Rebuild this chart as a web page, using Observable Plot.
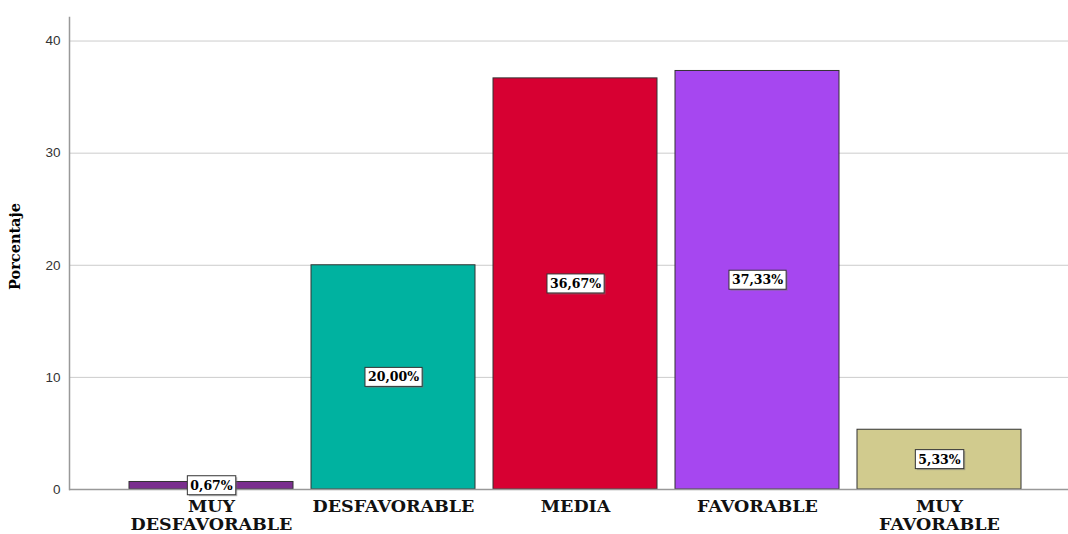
<!DOCTYPE html>
<html>
<head>
<meta charset="utf-8">
<script src="https://cdn.jsdelivr.net/npm/d3@7"></script>
<script src="https://cdn.jsdelivr.net/npm/@observablehq/plot@0.6"></script>
<style>
  html, body { margin: 0; padding: 0; background: #ffffff; }
  #chart svg { display: block; }
</style>
</head>
<body>
<div id="chart"></div>
<script>
const categories = ["MUY DESFAVORABLE", "DESFAVORABLE", "MEDIA", "FAVORABLE", "MUY FAVORABLE"];
const axisLabels = ["MUY\nDESFAVORABLE", "DESFAVORABLE", "MEDIA", "FAVORABLE", "MUY\nFAVORABLE"];
const values = [0.67, 20.00, 36.67, 37.33, 5.33];
const colors = ["#7a2f8e", "#00b2a0", "#d70032", "#a647f0", "#d1cb8e"];
const yTicks = [0, 10, 20, 30, 40];
const yTitle = "Porcentaje";

const data = categories.map((c, i) => ({cat: c, value: values[i], label: values[i].toFixed(2).replace(".", ",") + "%"}));

const serif = "DejaVu Serif, Liberation Serif, serif";

const chart = Plot.plot({
  width: 1068,
  height: 534,
  marginLeft: 69,
  marginRight: 0,
  marginTop: 17,
  marginBottom: 45,
  style: {background: "#ffffff"},
  x: {domain: categories, range: [119, 1030], paddingInner: 0.1, paddingOuter: 0.05},
  y: {domain: [0, 42.1]},
  color: {domain: categories, range: colors},
  marks: [
    Plot.ruleY(yTicks.filter(t => t > 0), {stroke: "#cccccc", strokeWidth: 1}),
    Plot.barY(data, {x: "cat", y: "value", fill: "cat", stroke: "#333333", strokeWidth: 1}),
    Plot.ruleY([0], {stroke: "#999999", strokeWidth: 1.5}),
    Plot.frame({anchor: "left", stroke: "#999999", strokeWidth: 1.5}),
    Plot.axisY({ticks: yTicks, tickSize: 0, tickPadding: 9, label: null, fontFamily: "Liberation Sans, Arial, sans-serif", fontSize: 13.5, fill: "#333333"}),
    Plot.text([yTitle], {frameAnchor: "left", textAnchor: "middle", rotate: -90, dx: -54, dy: -7, text: (d) => d, fontFamily: serif, fontWeight: "bold", fontSize: 14.5, fill: "#000000"}),
    Plot.axisX({tickSize: 0, tickPadding: 10, label: null, tickFormat: (d) => axisLabels[categories.indexOf(d)], fontFamily: serif, fontWeight: "bold", fontSize: 17.5, lineHeight: 1.03, fill: "#111111"}),
    Plot.text(data, {x: "cat", y: (d) => d.value / 2, text: "label", fontFamily: serif, fontWeight: "bold", fontSize: 12.5, fill: "#000000", className: "barlabel"})
  ]
});

document.getElementById("chart").appendChild(chart);

// White boxes behind the value labels, sized from the rendered text
const ns = "http://www.w3.org/2000/svg";
chart.querySelectorAll(".barlabel text").forEach((t) => {
  const b = t.getBBox();
  const padX = 3, padY = 2;
  const tr = t.getAttribute("transform") || "";
  const mk = (dx, dy, fill, stroke, op) => {
    const r = document.createElementNS(ns, "rect");
    r.setAttribute("x", b.x - padX + dx);
    r.setAttribute("y", b.y - padY + dy);
    r.setAttribute("width", b.width + 2 * padX);
    r.setAttribute("height", b.height + 2 * padY);
    r.setAttribute("fill", fill);
    if (stroke) { r.setAttribute("stroke", stroke); r.setAttribute("stroke-width", "1"); }
    if (op) r.setAttribute("opacity", op);
    if (tr) r.setAttribute("transform", tr);
    t.parentNode.insertBefore(r, t);
  };
  mk(1.5, 1.5, "#777777", null, "0.5");
  mk(0, 0, "#ffffff", "#333333", null);
});
</script>
</body>
</html>
